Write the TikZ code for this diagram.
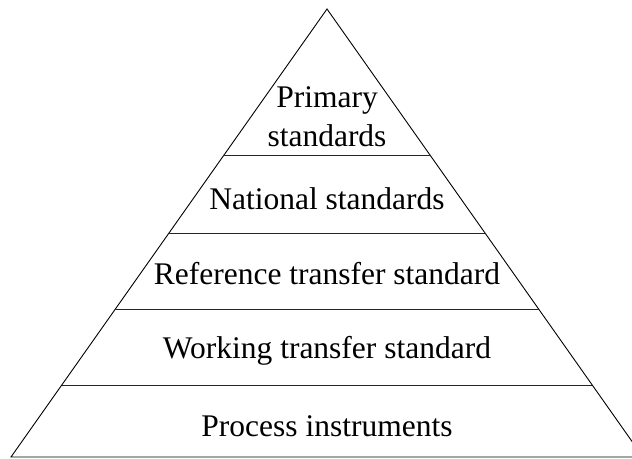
\documentclass[tikz,border=0pt]{standalone}
\usepackage{fontspec}
\setmainfont{Liberation Serif}
\usetikzlibrary{calc}
\begin{document}
\begin{tikzpicture}[x=1pt,y=1pt,
  edge/.style={draw=black,line width=0.9pt},
  lvl/.style={edge,draw=black!85},
  label/.style={font=\fontsize{31.5}{39}\selectfont,anchor=base,inner sep=0pt,align=center}]
\useasboundingbox (0,0) rectangle (632,458);
\clip (0,0) rectangle (632,458);
\coordinate (A) at (327,449);
\coordinate (L) at (11,1);
\coordinate (R) at (643,1);
\draw[edge,line join=miter] (A) -- (L) -- (R) -- cycle;
\foreach \t/\n in {0.328/1,0.5/2,0.6696/3,0.8393/4}{
  \coordinate (l\n) at ($(A)!\t!(L)$);
  \coordinate (r\n) at ($(A)!\t!(R)$);
  \draw[lvl] (l\n) -- (r\n);
}
\node[label] (p) at (327,311) {Primary\\standards};
\node[label] (n) at (327,248) {National standards};
\node[label] (rt) at (327,173) {Reference transfer standard};
\node[label] (w) at (327,99) {Working transfer standard};
\node[label] (pi) at (327,21) {Process instruments};
\end{tikzpicture}
\end{document}
